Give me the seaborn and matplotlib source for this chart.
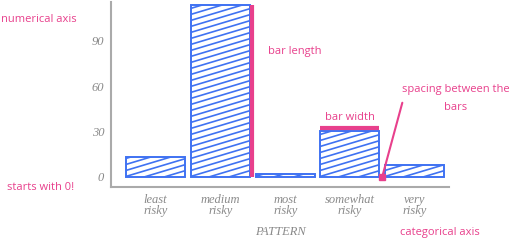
import matplotlib
matplotlib.use("Agg")
import matplotlib.pyplot as plt
from matplotlib.collections import LineCollection
import numpy as np
import seaborn as sns
import pandas as pd

# Data
categories = ["least\nrisky", "medium\nrisky", "most\nrisky", "somewhat\nrisky", "very\nrisky"]
counts = [13, 114, 2, 30, 8]

BLUE = "#3f72f2"
PINK = "#e8408c"
GRAY = "#8a8a8a"

sns.set_style("white")
plt.rcParams["font.family"] = ["Open Sans", "DejaVu Sans"]

df = pd.DataFrame({"PATTERN": categories, "count": counts})

fig = plt.figure(figsize=(5.09, 2.40), dpi=100)
ax = fig.add_axes([0.218, 0.221, 0.664, 0.771])

sns.barplot(data=df, x="PATTERN", y="count", ax=ax, width=0.91,
            color="white", saturation=1, edgecolor=BLUE, linewidth=1.4)

ax.set_xlim(-0.69, 4.53)
ax.set_ylim(-6.8, 115.8)
ax.set_yticks([0, 30, 60, 90])


def shallow_hatch(ax, patch, slope=0.3, step=6.0, color=BLUE, lw=1.2):
    # sketchy low-angle hatch, computed in pixel space and clipped to the bar
    x0, y0 = patch.get_x(), patch.get_y()
    x1, y1 = x0 + patch.get_width(), y0 + patch.get_height()
    (px0, py0), (px1, py1) = ax.transData.transform([(x0, y0), (x1, y1)])
    w = px1 - px0
    segs = []
    for off in np.arange(-slope * w - step, (py1 - py0) + step, step):
        a = (px0 - 2, py0 + off - 2 * slope)
        b = (px1 + 2, py0 + off + slope * (w + 2))
        segs.append(ax.transData.inverted().transform([a, b]))
    lc = LineCollection(segs, colors=color, linewidths=lw, zorder=patch.get_zorder())
    ax.add_collection(lc, autolim=False)
    lc.set_clip_path(patch)


for p in list(ax.patches):
    shallow_hatch(ax, p)

sns.despine(ax=ax)
for side in ["left", "bottom"]:
    ax.spines[side].set_color("#aaaaaa")
    ax.spines[side].set_linewidth(1.5)
ax.tick_params(length=0, pad=5, colors=GRAY, labelsize=9)
for lab in ax.get_xticklabels() + ax.get_yticklabels():
    lab.set_fontfamily("Liberation Serif")
    lab.set_fontstyle("italic")
    lab.set_linespacing(0.95)
ax.set_ylabel("")
ax.set_xlabel("PATTERN", fontfamily="Liberation Serif", fontstyle="italic",
              color=GRAY, fontsize=9, labelpad=6)

# annotations
half = 0.91 / 2
ax.plot([1 + half + 0.03, 1 + half + 0.03], [0, counts[1]], color=PINK, lw=3,
        solid_capstyle="butt", clip_on=False)
ax.text(1.74, 83, "bar length", color=PINK, fontsize=8, va="center")

ax.plot([3 - half, 3 + half], [32.5, 32.5], color=PINK, lw=3,
        solid_capstyle="butt", clip_on=False)
ax.text(3.0, 39, "bar width", color=PINK, fontsize=8, ha="center", va="center")

ax.plot([3.5, 3.81], [0, 49], color=PINK, lw=1.5, clip_on=False)
ax.plot([3.5], [0], marker="s", ms=4, color=PINK, clip_on=False)
ax.text(4.63, 52, "spacing between the\nbars", color=PINK, fontsize=8,
        ha="center", va="center", linespacing=1.9, clip_on=False)

fig.text(1 / 509, 1 - 19 / 240, "numerical axis", color=PINK, fontsize=8, va="center")
fig.text(7 / 509, 1 - 188 / 240, "starts with 0!", color=PINK, fontsize=8, va="center")
fig.text(400 / 509, 1 - 233 / 240, "categorical axis", color=PINK, fontsize=8, va="center")

fig.savefig("out.png", dpi=100)
